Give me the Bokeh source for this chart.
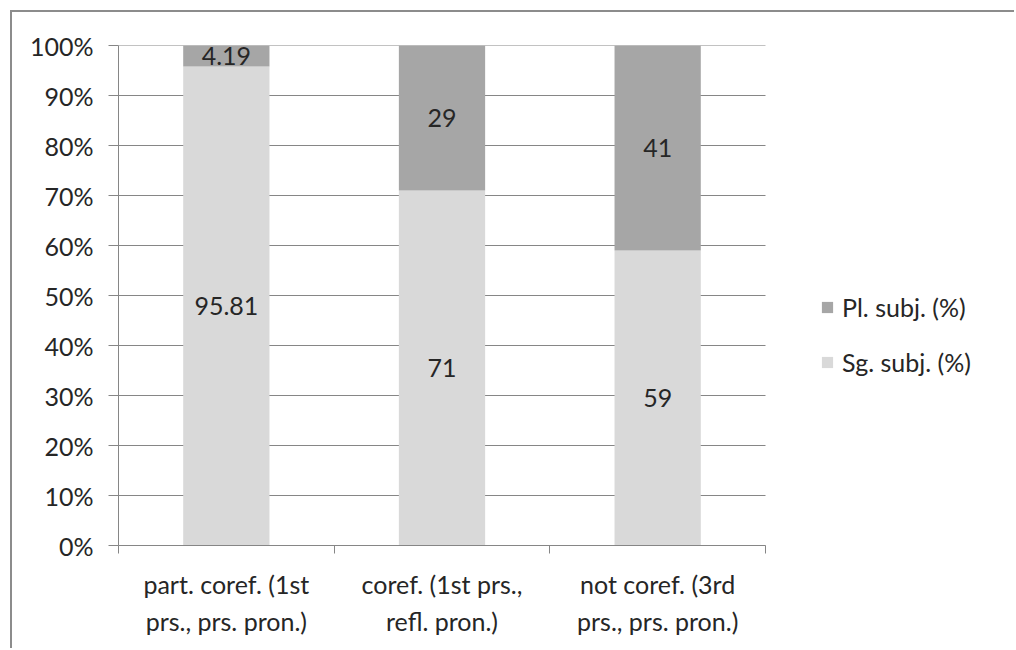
from bokeh.plotting import figure
from bokeh.models import (Range1d, FixedTicker, Legend, LegendItem, ColumnDataSource)
from bokeh.core.properties import value
from bokeh.embed import file_html
from bokeh.resources import INLINE

# Data
categories = ["part. coref. (1st\nprs., prs. pron.)",
              "coref. (1st prs.,\nrefl. pron.)",
              "not coref. (3rd\nprs., prs. pron.)"]
sg_subj = [95.81, 71, 59]
pl_subj = [4.19, 29, 41]
series_names = ["Sg. subj. (%)", "Pl. subj. (%)"]
y_ticks = [0, 10, 20, 30, 40, 50, 60, 70, 80, 90, 100]
y_tick_labels = ["0%", "10%", "20%", "30%", "40%", "50%", "60%", "70%", "80%", "90%", "100%"]

FONT = "Lato"
FS = "25px"
TEXT = "#262626"
GRID = "#868686"
SG_COLOR = "#d9d9d9"
PL_COLOR = "#a6a6a6"

n = len(categories)
xs = [i + 0.5 for i in range(n)]

# the frame runs on to the right edge so the legend has room; the category
# area (0..n) keeps 647 px of the 898 px frame
FRAME_W, PLOT_W = 898, 647
x_end = n * FRAME_W / PLOT_W

p = figure(width=1004, height=638, frame_width=FRAME_W, frame_height=500,
           output_backend="svg", toolbar_location=None,
           x_range=Range1d(0, x_end), y_range=Range1d(0, 100),
           min_border_left=106, min_border_top=33, min_border_right=0,
           min_border_bottom=105, margin=(12, 0, 0, 12))
p.styles = {"box-shadow": "-2px -2px 0 0 #8c8c8c"}
p.outline_line_color = None
p.background_fill_color = "white"
p.border_fill_color = "white"

# horizontal gridlines across the category area only
p.segment(x0=[0] * len(y_ticks), x1=[n] * len(y_ticks), y0=y_ticks, y1=y_ticks,
          line_color=GRID, line_width=1)

src = ColumnDataSource(dict(x=xs, sg=sg_subj, pl=pl_subj))
rs = p.vbar_stack(["sg", "pl"], x="x", width=0.4, source=src,
                  color=[SG_COLOR, PL_COLOR], line_color=None)

# value labels centred in each segment
lab_x, lab_y, lab_t = [], [], []
for x, s, q in zip(xs, sg_subj, pl_subj):
    lab_x += [x, x]
    lab_y += [s / 2, s + q / 2]
    lab_t += [f"{s:g}", f"{q:g}"]
p.text(x=lab_x, y=lab_y, text=lab_t, text_font=value(FONT), text_font_size=FS,
       text_color=TEXT, text_align="center", text_baseline="middle")

# y axis
p.yaxis.ticker = FixedTicker(ticks=y_ticks)
p.yaxis.major_label_overrides = {t: l for t, l in zip(y_ticks, y_tick_labels)}
p.yaxis.major_label_text_font = FONT
p.yaxis.major_label_text_font_size = FS
p.yaxis.major_label_text_color = TEXT
p.yaxis.major_tick_out = 10
p.yaxis.major_tick_in = 0
p.yaxis.minor_tick_line_color = None
p.yaxis.major_label_standoff = 15
p.yaxis.axis_line_color = GRID
p.yaxis.major_tick_line_color = GRID

# x axis: labels at centres, ticks at category boundaries
p.xaxis.bounds = (0, n)
p.xaxis.ticker = FixedTicker(ticks=xs, minor_ticks=list(range(n + 1)))
p.xaxis.major_label_overrides = {x: c for x, c in zip(xs, categories)}
p.xaxis.major_label_text_font = FONT
p.xaxis.major_label_text_font_size = FS
p.xaxis.major_label_text_color = TEXT
p.xaxis.major_label_text_line_height = 1.25
p.xaxis.major_tick_line_color = None
p.xaxis.major_tick_out = 0
p.xaxis.major_tick_in = 0
p.xaxis.minor_tick_out = 8
p.xaxis.minor_tick_in = 0
p.xaxis.minor_tick_line_color = GRID
p.xaxis.major_label_standoff = 15
p.xaxis.axis_line_color = GRID

p.xgrid.grid_line_color = None
p.ygrid.grid_line_color = None

legend = Legend(items=[LegendItem(label=series_names[1], renderers=[rs[1]]),
                       LegendItem(label=series_names[0], renderers=[rs[0]])],
                location=(702, 168), orientation="vertical")
legend.label_text_font = FONT
legend.label_text_font_size = FS
legend.label_text_color = TEXT
legend.glyph_width = 14
legend.glyph_height = 14
legend.label_height = 30
legend.spacing = 25
legend.padding = 0
legend.margin = 0
legend.label_standoff = 8
legend.border_line_color = None
legend.background_fill_alpha = 0
p.add_layout(legend, "center")

open("out.html", "w").write(file_html(p, INLINE))
